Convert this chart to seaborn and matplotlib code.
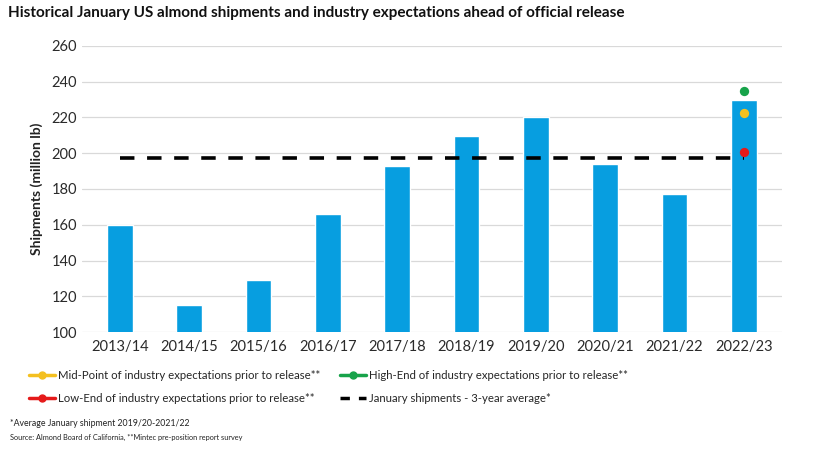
import matplotlib
matplotlib.use("Agg")
import matplotlib.pyplot as plt
from matplotlib.lines import Line2D
import seaborn as sns
import pandas as pd

# data
seasons = ["2013/14", "2014/15", "2015/16", "2016/17", "2017/18",
           "2018/19", "2019/20", "2020/21", "2021/22", "2022/23"]
shipments = [160, 115, 129, 166, 193, 209.5, 220.5, 194, 177, 229.5]
avg_3yr = 197.5
expect_mid = 222.5
expect_high = 235
expect_low = 200.5

bar_color = "#079ee0"
mid_color = "#f4c020"
high_color = "#17a34a"
low_color = "#e51a1a"

sns.set_theme(style="white")
plt.rcParams["font.family"] = ["Lato", "DejaVu Sans"]

df = pd.DataFrame({"season": seasons, "shipments": shipments})

fig = plt.figure(figsize=(8.18, 4.5), dpi=100)
ax = fig.add_axes([0.1, 0.262, 0.856, 0.636])

sns.barplot(data=df, x="season", y="shipments", color=bar_color,
            width=0.37, saturation=1, ax=ax, zorder=2)

# 3-year average line across all seasons
last = len(seasons) - 1
ax.hlines(avg_3yr, 0, last, colors="black", linestyles=(0, (4, 3.5)),
          linewidth=2.6, zorder=3)

# industry expectations for the latest season
ax.scatter([last], [expect_high], color=high_color, s=45, zorder=4, linewidths=0)
ax.scatter([last], [expect_mid], color=mid_color, s=45, zorder=4, linewidths=0)
ax.scatter([last], [expect_low], color=low_color, s=45, zorder=4, linewidths=0)

ax.set_ylim(100, 260)
ax.set_yticks(range(100, 261, 20))
ax.set_xlim(-0.55, last + 0.55)
ax.yaxis.grid(True, color="#d9d9d9", linewidth=0.9, zorder=0)
ax.set_axisbelow(True)
for s in ax.spines.values():
    s.set_visible(False)
ax.tick_params(axis="both", length=0, labelsize=10.5, colors="#2a2a2a")
ax.tick_params(axis="x", pad=6)
ax.set_xlabel("")
ax.set_ylabel("Shipments (million lb)", fontsize=10, fontweight="bold",
              color="#222222", labelpad=6)

fig.text(0.01, 0.972, "Historical January US almond shipments and industry expectations ahead of official release",
         fontsize=11, fontweight="bold", color="#111111", va="center")

leg_font = {"size": 8.2}
left_handles = [
    Line2D([], [], color=mid_color, marker="o", markersize=5, linewidth=2.5),
    Line2D([], [], color=low_color, marker="o", markersize=5, linewidth=2.5),
]
left_labels = [
    "Mid-Point of industry expectations prior to release**",
    "Low-End of industry expectations prior to release**",
]
right_handles = [
    Line2D([], [], color=high_color, marker="o", markersize=5, linewidth=2.5),
    Line2D([], [], color="black", linestyle=(0.5, (3.2, 2.6)), linewidth=2.5),
]
right_labels = [
    "High-End of industry expectations prior to release**",
    "January shipments - 3-year average*",
]
fig.legend(left_handles, left_labels, loc="upper left", bbox_to_anchor=(0.03, 0.188),
           frameon=False, handlelength=2.3, handletextpad=0.25,
           labelspacing=1.05, borderaxespad=0, prop=leg_font)
fig.legend(right_handles, right_labels, loc="upper left", bbox_to_anchor=(0.41, 0.188),
           frameon=False, handlelength=2.3, handletextpad=0.25,
           labelspacing=1.05, borderaxespad=0, prop=leg_font)

fig.text(0.012, 0.06, "*Average January shipment 2019/20-2021/22", fontsize=6.3,
         color="#222222", va="center")
fig.text(0.012, 0.028, "Source: Almond Board of California, **Mintec pre-position report survey",
         fontsize=5.3, color="#222222", va="center")

fig.savefig("out.png", dpi=100)
